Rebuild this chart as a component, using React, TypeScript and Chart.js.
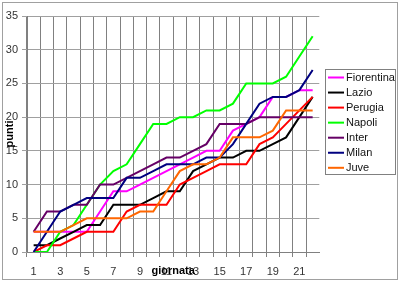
import React, { useEffect, useRef } from 'react';
import { Chart, registerables } from 'chart.js';

Chart.register(...registerables);

const giornate = ['1','2','3','4','5','6','7','8','9','10','11','12','13','14','15','16','17','18','19','20','21','22'];
const squadre = ['Fiorentina', 'Lazio', 'Perugia', 'Napoli', 'Inter', 'Milan', 'Juve'];
const colori = ['#ff00ff', '#000000', '#ff0000', '#00ff00', '#660066', '#000080', '#ff6600'];
const fiorentina = [3,3,3,3,3,6,9,9,10,11,12,13,14,15,15,18,19,20,23,23,24,24];
const lazio = [1,1,2,3,4,4,7,7,7,8,9,9,12,13,14,14,15,15,16,17,20,23];
const perugia = [0,1,1,2,3,3,3,6,7,7,7,10,11,12,13,13,13,16,17,19,21,23];
const napoli = [0,0,3,4,7,10,12,13,16,19,19,20,20,21,21,22,25,25,25,26,29,32];
const inter = [3,6,6,7,7,10,10,11,12,13,14,14,15,16,19,19,19,20,20,20,20,20];
const milan = [0,3,6,7,8,8,8,11,11,12,13,13,13,14,14,16,19,22,23,23,24,27];
const juve = [3,3,3,4,5,5,5,5,6,6,9,12,13,13,14,17,17,17,18,21,21,21];
const serie = [fiorentina, lazio, perugia, napoli, inter, milan, juve];
const titoloX = 'giornata';
const titoloY = 'punti';

const FONT = '"Liberation Sans", Arial, sans-serif';

const decorPlugin = {
  id: 'decor',
  beforeDraw(chart: any) {
    const ctx = chart.ctx;
    ctx.save();
    ctx.fillStyle = '#ffffff';
    ctx.fillRect(0, 0, chart.width, chart.height);
    ctx.restore();
  },
  afterDraw(chart: any) {
    const ctx = chart.ctx;
    const area = chart.chartArea;
    ctx.save();
    // outer frame
    ctx.strokeStyle = '#a0a0a0';
    ctx.lineWidth = 1;
    ctx.strokeRect(2.5, 2.5, 395, 277);
    // axis titles
    ctx.fillStyle = '#000';
    ctx.font = 'bold 11px ' + FONT;
    ctx.textAlign = 'center';
    ctx.textBaseline = 'middle';
    ctx.fillText(titoloX, (area.left + area.right) / 2, 271);
    ctx.save();
    ctx.translate(10, (area.top + area.bottom) / 2);
    ctx.rotate(-Math.PI / 2);
    ctx.fillText(titoloY, 0, 0);
    ctx.restore();
    // legend
    const lx = 325.5, ly = 69.5, lw = 70, lh = 105;
    ctx.strokeStyle = '#808080';
    ctx.strokeRect(lx, ly, lw, lh);
    ctx.font = '11px ' + FONT;
    ctx.textAlign = 'left';
    chart.data.datasets.forEach((ds: any, i: number) => {
      const y = 77.5 + i * 15.05;
      ctx.strokeStyle = ds.borderColor;
      ctx.lineWidth = 2;
      ctx.beginPath();
      ctx.moveTo(328, y);
      ctx.lineTo(344, y);
      ctx.stroke();
      ctx.fillStyle = '#111';
      ctx.fillText(ds.label, 346, y + 0.5);
    });
    ctx.restore();
  },
};

export default function App() {
  const ref = useRef<HTMLCanvasElement | null>(null);
  useEffect(() => {
    if (!ref.current) return;
    const n = squadre.length;
    const chart = new Chart(ref.current, {
      type: 'line',
      data: {
        labels: giornate,
        datasets: squadre.map((s, i) => ({
          label: s,
          data: serie[i],
          borderColor: colori[i],
          backgroundColor: colori[i],
          borderWidth: 2,
          pointRadius: 0,
          tension: 0,
          fill: false,
          order: n - 1 - i,
        })),
      },
      options: {
        animation: false,
        responsive: false,
        maintainAspectRatio: false,
        layout: { padding: { left: 0, right: 80.7, top: 16, bottom: 0 } },
        plugins: { legend: { display: false }, tooltip: { enabled: false } },
        scales: {
          x: {
            type: 'category',
            offset: true,
            afterFit: (s: any) => { s.height = 32; },
            grid: {
              offset: true,
              color: (c: any) => (c.type === 'tick' ? '#808080' : 'rgba(0,0,0,0)'),
              lineWidth: 1,
              tickLength: 5,
            },
            border: { color: '#808080', width: 1 },
            ticks: {
              autoSkip: false,
              maxRotation: 0,
              padding: 8,
              color: '#333',
              font: { family: FONT, size: 11 },
              callback: (v: any, i: number) => (i % 2 === 0 ? giornate[i] : ''),
            },
          },
          y: {
            min: 0,
            max: 35,
            afterFit: (s: any) => { s.width = 27; },
            grid: { color: '#a0a0a0', lineWidth: 1, tickLength: 5 },
            border: { color: '#808080', width: 1 },
            ticks: {
              stepSize: 5,
              padding: 4,
              color: '#333',
              font: { family: FONT, size: 11 },
            },
          },
        },
      },
      plugins: [decorPlugin],
    });
    return () => chart.destroy();
  }, []);
  return (
    <div style={{ position: 'absolute', left: 0, top: 0, width: 400, height: 284 }}>
      <canvas ref={ref} width={400} height={284} />
    </div>
  );
}
